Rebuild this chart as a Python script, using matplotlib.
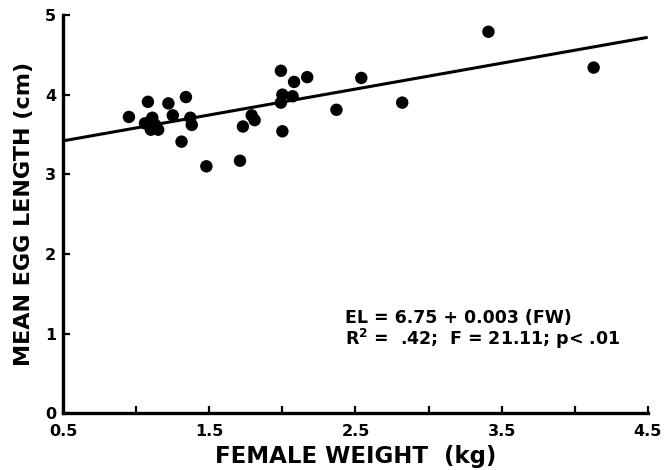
import matplotlib.pyplot as plt
import numpy as np

# female weight (kg) vs mean egg length (cm)
female_weight = [0.95, 1.08, 1.22, 1.34, 1.11, 1.06, 1.10, 1.15, 1.13, 1.25,
                 1.37, 1.38, 1.31, 1.48, 1.71, 1.79, 1.81, 1.73, 1.99, 2.08,
                 2.17, 2.00, 2.07, 1.99, 2.00, 2.37, 2.54, 2.82, 3.41, 4.13]
egg_length = [3.72, 3.91, 3.89, 3.97, 3.71, 3.64, 3.56, 3.56, 3.62, 3.74,
              3.71, 3.62, 3.41, 3.10, 3.17, 3.74, 3.68, 3.60, 4.30, 4.16,
              4.22, 4.00, 3.98, 3.90, 3.54, 3.81, 4.21, 3.90, 4.79, 4.34]

# regression line as drawn
fit_x = [0.5, 4.5]
fit_y = [3.42, 4.72]

x_ticks = [0.5, 1.0, 1.5, 2.0, 2.5, 3.0, 3.5, 4.0, 4.5]
x_ticklabels = ["0.5", "", "1.5", "", "2.5", "", "3.5", "", "4.5"]
y_ticks = [0, 1, 2, 3, 4, 5]

plt.rcParams["font.family"] = ["DejaVu Sans"]
plt.rcParams["font.weight"] = "bold"

fig = plt.figure(figsize=(6.65, 4.70), dpi=100)
ax = fig.add_axes([0.095, 0.121, 0.879, 0.847])

ax.plot(fit_x, fit_y, color="black", lw=2.2, solid_capstyle="butt")
ax.scatter(female_weight, egg_length, s=80, color="black", zorder=3,
           edgecolors="none")

ax.set_xlim(0.5, 4.5)
ax.set_ylim(0, 5)
ax.set_xticks(x_ticks)
ax.set_xticklabels(x_ticklabels)
ax.set_yticks(y_ticks)

for side in ["top", "right"]:
    ax.spines[side].set_visible(False)
for side in ["left", "bottom"]:
    ax.spines[side].set_linewidth(2.4)

ax.tick_params(direction="in", length=5, width=1.6, labelsize=11.5)
ax.tick_params(axis="x", pad=8)
ax.tick_params(axis="y", pad=5)
for lab in ax.get_xticklabels() + ax.get_yticklabels():
    lab.set_fontweight("bold")

ax.set_xlabel("FEMALE WEIGHT  (kg)", fontsize=16.5, fontweight="bold", labelpad=4)
ax.set_ylabel("MEAN EGG LENGTH (cm)", fontsize=16, fontweight="bold", labelpad=8)

ax.text(0.482, 0.262, "EL = 6.75 + 0.003 (FW)\n$\\mathbf{R^2}$ =  .42;  F = 21.11; p< .01",
        transform=ax.transAxes, fontsize=12.5, fontweight="bold",
        va="top", ha="left", linespacing=1.0)

fig.savefig("out.png", dpi=100)
